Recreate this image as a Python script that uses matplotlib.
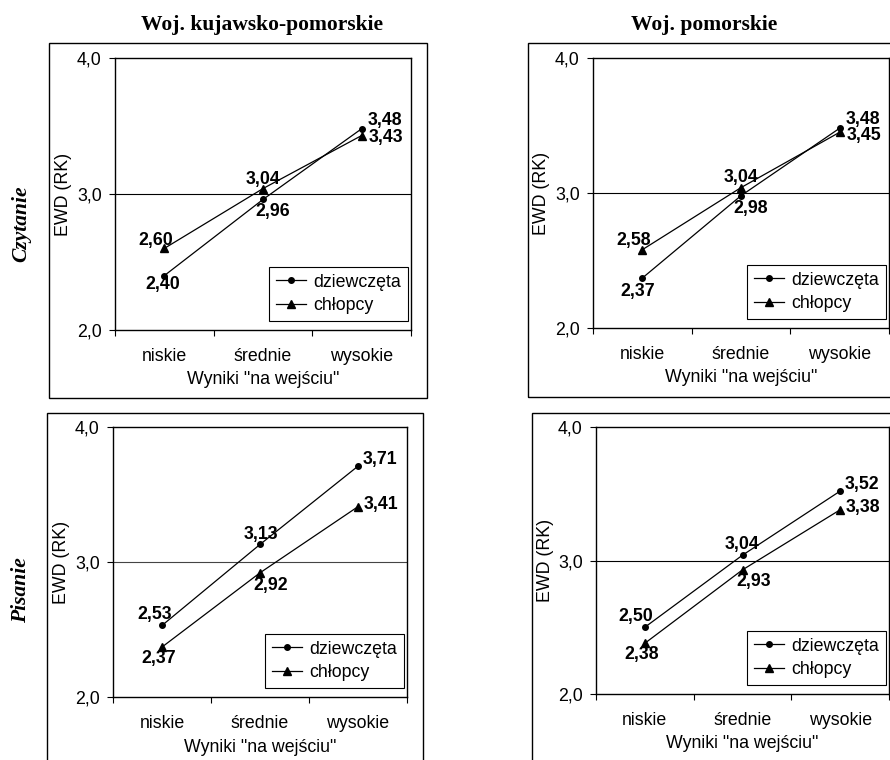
import matplotlib
matplotlib.use('Agg')
import matplotlib.pyplot as plt
from matplotlib.patches import Rectangle

plt.rcParams['font.family'] = ['Liberation Sans', 'DejaVu Sans']

W, H = 890, 760  # figure size in pixels (dpi 100)
FS = 12.8  # base font size

categories = ['niskie', 'średnie', 'wysokie']
seriesNames = ['dziewczęta', 'chłopcy']
regionTitles = ['Woj. kujawsko-pomorskie', 'Woj. pomorskie']
rowTitles = ['Czytanie', 'Pisanie']
yTicks = [2.0, 3.0, 4.0]

# EWD values
kpCzytDz = [2.40, 2.96, 3.48]
kpCzytCh = [2.60, 3.04, 3.43]
pmCzytDz = [2.37, 2.98, 3.48]
pmCzytCh = [2.58, 3.04, 3.45]
kpPisDz = [2.53, 3.13, 3.71]
kpPisCh = [2.37, 2.92, 3.41]
pmPisDz = [2.50, 3.04, 3.52]
pmPisCh = [2.38, 2.93, 3.38]


def figBox(x0, y0, x1, y1):  # pixel box (top-left origin) -> figure fraction rect
    return [x0 / W, 1 - y1 / H, (x1 - x0) / W, (y1 - y0) / H]


def fmt(v):
    return ('%.2f' % v).replace('.', ',')


fig = plt.figure(figsize=(W / 100, H / 100), dpi=100)


def drawPanel(axPx, framePx, dz, ch, dzOff, chOff, gridColor):
    # outer chart frame
    fx0, fy0, fx1, fy1 = framePx
    fig.patches.append(Rectangle((fx0 / W, 1 - fy1 / H), (fx1 - fx0) / W, (fy1 - fy0) / H,
                                 transform=fig.transFigure, fill=False, ec='k', lw=1.0))
    ax = fig.add_axes(figBox(*axPx))
    axW = axPx[2] - axPx[0]
    axH = axPx[3] - axPx[1]
    xs = range(len(categories))

    ax.axhline(3.0, color=gridColor, lw=0.8, zorder=1)
    ax.plot(xs, dz, color='k', lw=0.9, marker='o', ms=4, label=seriesNames[0], zorder=3)
    ax.plot(xs, ch, color='k', lw=0.9, marker='^', ms=5.5, label=seriesNames[1], zorder=3)

    for i in xs:
        ax.annotate(fmt(dz[i]), (i, dz[i]), xytext=dzOff[i], textcoords='offset pixels',
                    ha='center', va='center', fontsize=FS, fontweight='bold', zorder=4)
        ax.annotate(fmt(ch[i]), (i, ch[i]), xytext=chOff[i], textcoords='offset pixels',
                    ha='center', va='center', fontsize=FS, fontweight='bold', zorder=4)

    ax.set_xlim(-0.5, len(categories) - 0.5)
    ax.set_ylim(2.0, 4.0)
    ax.set_yticks(yTicks)
    ax.set_yticklabels([('%.1f' % t).replace('.', ',') for t in yTicks], fontsize=FS)
    ax.tick_params(axis='y', direction='out', length=4.5, width=0.8, pad=5)

    # boundary ticks on x, category names centred between them
    ax.set_xticks([i - 0.5 for i in range(len(categories) + 1)])
    ax.set_xticklabels([])
    ax.set_xticks(list(xs), minor=True)
    ax.set_xticklabels(categories, minor=True, fontsize=FS)
    ax.tick_params(axis='x', which='major', direction='out', length=4.5, width=0.8)
    ax.tick_params(axis='x', which='minor', length=0, pad=13)

    for sp in ax.spines.values():
        sp.set_color('k')
        sp.set_linewidth(1.0)

    ax.set_xlabel('Wyniki "na wejściu"', fontsize=FS)
    ax.xaxis.set_label_coords(0.5, -50 / axH)
    ax.xaxis.label.set_va('center')
    ax.set_ylabel('EWD (RK)', fontsize=FS)
    ax.yaxis.set_label_coords(-51 / axW, 0.5)
    ax.yaxis.label.set_va('center')

    leg = ax.legend(loc='lower right', bbox_to_anchor=(1 - 3 / axW, 9 / axH), borderaxespad=0,
                    fontsize=FS, fancybox=False, framealpha=1, edgecolor='k',
                    handlelength=1.7, handletextpad=0.4, labelspacing=0.35, borderpad=0.4)
    leg.get_frame().set_linewidth(0.8)
    return ax


drawPanel((115, 58, 411, 330), (49, 43, 427, 398), kpCzytDz, kpCzytCh,
          [(-2, -9), (10, -12), (23, 8)], [(-9, 8), (0, 9), (24, -2)], 'k')
drawPanel((593, 58, 889, 328), (528, 43, 910, 397), pmCzytDz, pmCzytCh,
          [(-5, -13), (10, -13), (23, 9)], [(-9, 9), (0, 10), (24, -3)], 'k')
drawPanel((113, 427, 407, 697), (47, 413, 423, 780), kpPisDz, kpPisCh,
          [(-7, 11), (1, 10), (22, 7)], [(-3, -11), (11, -13), (23, 2)], '#444444')
drawPanel((596, 427, 889, 694), (532, 413, 910, 780), pmPisDz, pmPisCh,
          [(-9, 11), (0, 11), (22, 7)], [(-3, -11), (11, -12), (23, 2)], 'k')

# column and row headings
fig.text(262 / W, 1 - 25 / H, regionTitles[0], ha='center', va='center', fontsize=15.5,
         fontweight='bold', family='Liberation Serif')
fig.text(704 / W, 1 - 25 / H, regionTitles[1], ha='center', va='center', fontsize=15.5,
         fontweight='bold', family='Liberation Serif')
fig.text(21 / W, 1 - 224 / H, rowTitles[0], ha='center', va='center', fontsize=15.5, rotation=90,
         fontweight='bold', style='italic', family='Liberation Serif')
fig.text(21 / W, 1 - 590 / H, rowTitles[1], ha='center', va='center', fontsize=15.5, rotation=90,
         fontweight='bold', style='italic', family='Liberation Serif')

plt.savefig('out.png', dpi=100)
